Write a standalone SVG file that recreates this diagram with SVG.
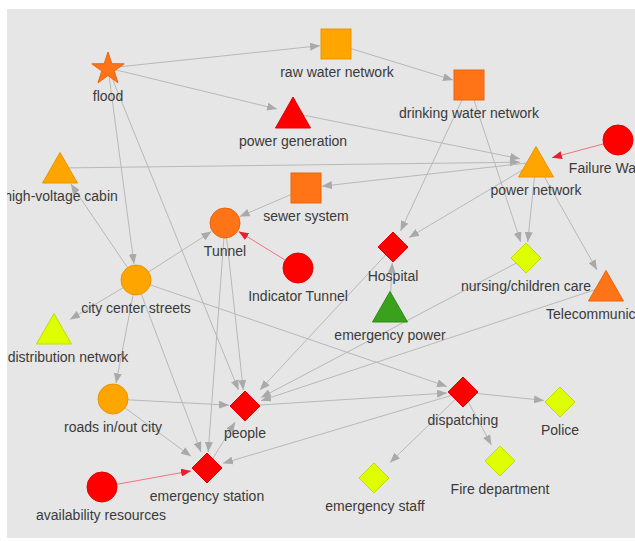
<svg xmlns="http://www.w3.org/2000/svg" width="635" height="541" viewBox="0 0 635 541">
<defs>
<clipPath id="clip"><rect x="7" y="9" width="628" height="529"/></clipPath>
<marker id="ah" viewBox="0 0 10 8" refX="10" refY="4" markerWidth="10" markerHeight="8" markerUnits="userSpaceOnUse" orient="auto"><path d="M0,0L10,4L0,8z" fill="#a9a9a9"/></marker>
<marker id="ahr" viewBox="0 0 10 8" refX="10" refY="4" markerWidth="10" markerHeight="8" markerUnits="userSpaceOnUse" orient="auto"><path d="M0,0L10,4L0,8z" fill="#ee1c2e"/></marker>
</defs>
<style>
.e{stroke:#b8b8b8;stroke-width:1;fill:none;marker-end:url(#ah)}
.er{stroke:#f27480;stroke-width:1;fill:none;marker-end:url(#ahr)}
.lbl{font-family:"Liberation Sans",Arial,sans-serif;font-size:14px;fill:#3a3a3a;text-anchor:middle}
.or{fill:#ffa500;stroke:#e89500;stroke-width:1}
.do{fill:#ff7417;stroke:#e9640c;stroke-width:1}
.rd{fill:#ff0000;stroke:#e20000;stroke-width:1}
.yg{fill:#ddff00;stroke:#c2dc00;stroke-width:1}
.gr{fill:#3aa11c;stroke:#2f8a15;stroke-width:1}
</style>
<rect x="7" y="9" width="628" height="529" fill="#e6e6e6"/>
<g clip-path="url(#clip)">
<g id="edges">
<line class="e" x1="108" y1="68" x2="320" y2="45.7"/>
<line class="e" x1="108" y1="68" x2="277" y2="109"/>
<line class="e" x1="108" y1="68" x2="134" y2="264"/>
<line class="e" x1="108" y1="68" x2="238.5" y2="390"/>
<line class="e" x1="336" y1="44" x2="453" y2="80"/>
<line class="e" x1="293" y1="113" x2="520" y2="158.8"/>
<line class="e" x1="60" y1="168" x2="520" y2="162.2"/>
<line class="er" x1="618" y1="140" x2="552" y2="157.7"/>
<line class="e" x1="536" y1="162" x2="322" y2="186.2"/>
<line class="e" x1="469" y1="85" x2="400.5" y2="231"/>
<line class="e" x1="469" y1="85" x2="520.7" y2="242"/>
<line class="e" x1="536" y1="162" x2="527.7" y2="242"/>
<line class="e" x1="536" y1="162" x2="409" y2="237.5"/>
<line class="e" x1="536" y1="162" x2="597" y2="270"/>
<line class="e" x1="306" y1="188" x2="239.7" y2="216.6"/>
<line class="er" x1="298" y1="268" x2="238.6" y2="231.4"/>
<line class="e" x1="136" y1="280" x2="211.5" y2="231.6"/>
<line class="e" x1="136" y1="280" x2="70.8" y2="184"/>
<line class="e" x1="136" y1="280" x2="70" y2="319.4"/>
<line class="e" x1="136" y1="280" x2="116" y2="383.3"/>
<line class="e" x1="136" y1="280" x2="201" y2="452"/>
<line class="e" x1="136" y1="280" x2="447" y2="386.5"/>
<line class="e" x1="225" y1="223" x2="243.3" y2="390"/>
<line class="e" x1="225" y1="223" x2="208.2" y2="452"/>
<line class="e" x1="393" y1="247" x2="259.9" y2="390"/>
<line class="e" x1="526" y1="258" x2="261" y2="397.6"/>
<line class="e" x1="606" y1="286" x2="261" y2="400.7"/>
<line class="e" x1="245" y1="406" x2="447" y2="393"/>
<line class="e" x1="390" y1="307" x2="392.2" y2="263"/>
<line class="e" x1="113" y1="399" x2="229" y2="405.2"/>
<line class="e" x1="113" y1="399" x2="191" y2="456.3"/>
<line class="er" x1="102" y1="487" x2="191" y2="470.9"/>
<line class="e" x1="207" y1="468" x2="235.2" y2="422"/>
<line class="e" x1="463" y1="392" x2="223" y2="463.3"/>
<line class="e" x1="463" y1="392" x2="544" y2="400.4"/>
<line class="e" x1="463" y1="392" x2="491.4" y2="445"/>
<line class="e" x1="463" y1="392" x2="390" y2="462.5"/>
</g>
<g id="flood"><polygon class="do" points="108,52 111.8,63.7 124.2,63.8 114.2,71 118,82.8 108,75.5 98,82.8 101.8,71 91.8,63.8 104.2,63.7"/><text class="lbl" x="108" y="101">flood</text></g>
<g id="raw-water-network"><rect class="or" x="321" y="29" width="30" height="30"/><text class="lbl" x="337" y="77">raw water network</text></g>
<g id="drinking-water-network"><rect class="do" x="454" y="70" width="30" height="30"/><text class="lbl" x="469" y="118">drinking water network</text></g>
<g id="power-generation"><polygon class="rd" points="293,97 310.5,128 275.5,128"/><text class="lbl" x="293" y="146">power generation</text></g>
<g id="power-network"><polygon class="or" points="536,146.5 553.5,177 518.5,177"/><text class="lbl" x="536" y="195">power network</text></g>
<g id="failure-warning"><circle class="rd" cx="618" cy="140" r="15"/><text class="lbl" x="618" y="173">Failure Warning</text></g>
<g id="high-voltage-cabin"><polygon class="or" points="60,152.5 77.5,183 42.5,183"/><text class="lbl" x="61" y="201">high-voltage cabin</text></g>
<g id="sewer-system"><rect class="do" x="291" y="173" width="30" height="30"/><text class="lbl" x="306" y="221">sewer system</text></g>
<g id="tunnel"><circle class="do" cx="225" cy="223" r="15"/><text class="lbl" x="225" y="256">Tunnel</text></g>
<g id="indicator-tunnel"><circle class="rd" cx="298" cy="268" r="15"/><text class="lbl" x="298" y="301">Indicator Tunnel</text></g>
<g id="city-center-streets"><circle class="or" cx="136" cy="280" r="15"/><text class="lbl" x="136" y="313">city center streets</text></g>
<g id="distribution-network"><polygon class="yg" points="54,313.5 71.5,344 36.5,344"/><text class="lbl" x="68" y="362">distribution network</text></g>
<g id="roads-in-out-city"><circle class="or" cx="113" cy="399" r="15"/><text class="lbl" x="113" y="432">roads in/out city</text></g>
<g id="people"><polygon class="rd" points="245,391 260,406 245,421 230,406"/><text class="lbl" x="245" y="438">people</text></g>
<g id="emergency-station"><polygon class="rd" points="207,453 222,468 207,483 192,468"/><text class="lbl" x="207" y="501">emergency station</text></g>
<g id="availability-resources"><circle class="rd" cx="102" cy="487" r="15"/><text class="lbl" x="101" y="520">availability resources</text></g>
<g id="dispatching"><polygon class="rd" points="463,377 478,392 463,407 448,392"/><text class="lbl" x="463" y="425">dispatching</text></g>
<g id="police"><polygon class="yg" points="560,387 575,402 560,417 545,402"/><text class="lbl" x="560" y="435">Police</text></g>
<g id="fire-department"><polygon class="yg" points="500,446 515,461 500,476 485,461"/><text class="lbl" x="500" y="494">Fire department</text></g>
<g id="emergency-staff"><polygon class="yg" points="374,463 389,478 374,493 359,478"/><text class="lbl" x="375" y="511">emergency staff</text></g>
<g id="hospital"><polygon class="rd" points="393,232 408,247 393,262 378,247"/><text class="lbl" x="393" y="281">Hospital</text></g>
<g id="emergency-power"><polygon class="gr" points="390,291.5 407.5,322 372.5,322"/><text class="lbl" x="390" y="340">emergency power</text></g>
<g id="nursing-children-care"><polygon class="yg" points="526,243 541,258 526,273 511,258"/><text class="lbl" x="526" y="291">nursing/children care</text></g>
<g id="telecommunication"><polygon class="do" points="606,270.5 623.5,301 588.5,301"/><text class="lbl" x="606" y="319">Telecommunication</text></g>
</g>
</svg>
